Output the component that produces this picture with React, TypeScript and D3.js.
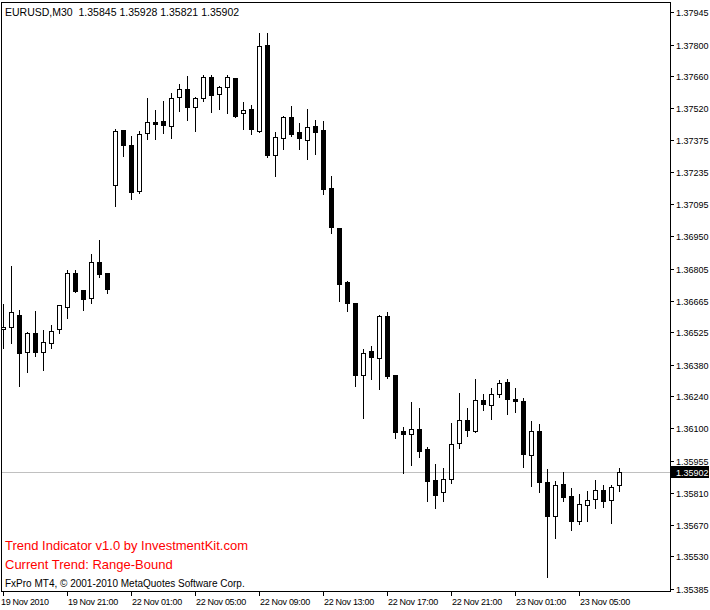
import React from "react";
import * as d3 from "d3";

const symbolTitle = "EURUSD,M30  1.35845 1.35928 1.35821 1.35902";
const indicatorLine1 = "Trend Indicator v1.0 by InvestmentKit.com";
const indicatorLine2 = "Current Trend: Range-Bound";
const copyright = "FxPro MT4, \u00A9 2001-2010 MetaQuotes Software Corp.";

const opens = [1.36537,1.36546,1.36599,1.36435,1.36519,1.36435,1.36475,1.36537,1.36637,1.36786,
1.36710,1.36675,1.36837,1.36786,1.37176,1.37421,1.37355,1.37152,1.37407,1.37456,
1.37461,1.37441,1.37567,1.37602,1.37522,1.37562,1.37655,1.37580,1.37611,1.37651,
1.37496,1.37513,1.37418,1.37797,1.37309,1.37385,1.37478,1.37411,1.37376,1.37438,
1.37420,1.37163,1.36985,1.36746,1.36653,1.36336,1.36440,1.36411,1.36595,1.36334,
1.36086,1.36071,1.36093,1.36005,1.35868,1.35814,1.35872,1.36031,1.36133,1.36087,
1.36222,1.36200,1.36249,1.36302,1.36227,1.36218,1.35978,1.36086,1.35860,1.35710,
1.35849,1.35796,1.35688,1.35756,1.35783,1.35824,1.35778,1.35845];
const highs = [1.36655,1.36822,1.36627,1.36530,1.36623,1.36538,1.36561,1.36650,1.36805,1.36805,
1.36716,1.36874,1.36936,1.36792,1.37429,1.37426,1.37399,1.37420,1.37568,1.37515,
1.37554,1.37590,1.37630,1.37665,1.37571,1.37670,1.37670,1.37621,1.37670,1.37653,
1.37550,1.37537,1.37856,1.37856,1.37417,1.37487,1.37531,1.37456,1.37518,1.37469,
1.37464,1.37220,1.36992,1.36756,1.36658,1.36453,1.36467,1.36603,1.36618,1.36338,
1.36108,1.36219,1.36192,1.36019,1.35943,1.35925,1.36126,1.36259,1.36192,1.36320,
1.36253,1.36280,1.36315,1.36320,1.36280,1.36235,1.36133,1.36120,1.35922,1.35868,
1.35908,1.35836,1.35809,1.35824,1.35873,1.35851,1.35851,1.35928];
const lows = [1.36454,1.36475,1.36287,1.36346,1.36420,1.36357,1.36453,1.36519,1.36586,1.36701,
1.36623,1.36655,1.36771,1.36697,1.37086,1.37307,1.37115,1.37143,1.37380,1.37383,
1.37409,1.37387,1.37507,1.37467,1.37418,1.37551,1.37503,1.37516,1.37498,1.37480,
1.37427,1.37405,1.37414,1.37303,1.37219,1.37338,1.37396,1.37338,1.37294,1.37316,
1.37136,1.36963,1.36664,1.36620,1.36287,1.36145,1.36317,1.36272,1.36322,1.36054,
1.35901,1.35935,1.35972,1.35777,1.35746,1.35777,1.35854,1.36012,1.36065,1.36080,
1.36179,1.36140,1.36238,1.36160,1.36172,1.35928,1.35843,1.35817,1.35439,1.35612,
1.35777,1.35647,1.35675,1.35688,1.35746,1.35750,1.35679,1.35821];
const closes = [1.36547,1.36613,1.36431,1.36519,1.36435,1.36479,1.36530,1.36644,1.36786,1.36708,
1.36670,1.36837,1.36781,1.36715,1.37417,1.37355,1.37148,1.37402,1.37456,1.37449,
1.37445,1.37562,1.37602,1.37525,1.37562,1.37655,1.37578,1.37611,1.37655,1.37485,
1.37509,1.37427,1.37793,1.37312,1.37389,1.37478,1.37405,1.37387,1.37433,1.37414,
1.37161,1.36990,1.36739,1.36653,1.36336,1.36431,1.36413,1.36595,1.36331,1.36083,
1.36071,1.36093,1.35998,1.35865,1.35802,1.35872,1.36027,1.36133,1.36092,1.36222,
1.36204,1.36249,1.36298,1.36227,1.36218,1.35983,1.36085,1.35861,1.35710,1.35845,
1.35794,1.35688,1.35761,1.35778,1.35824,1.35777,1.35836,1.35902];

const priceTicks = [1.37945,1.378,1.3766,1.3752,1.37375,1.37235,1.37095,1.3695,1.36805,1.36665,
1.36525,1.3638,1.3624,1.361,1.35955,1.3581,1.3567,1.3553,1.35385];
const timeLabels = ["19 Nov 2010","19 Nov 21:00","22 Nov 01:00","22 Nov 05:00","22 Nov 09:00",
"22 Nov 13:00","22 Nov 17:00","22 Nov 21:00","23 Nov 01:00","23 Nov 05:00"];
const timeLabelBars = [0,8,16,24,32,40,48,56,64,72];
const currentPrice = 1.35902;

const W = 710, H = 610;
const FONT = "'Liberation Sans', Arial, sans-serif";

export default function App() {
  const n = opens.length;
  const x = d3.scaleLinear().domain([0, n - 1]).range([3, 3 + 8 * (n - 1)]);
  const y = d3.scaleLinear().domain([1.35385, 1.37945]).range([589, 12]);
  const py = (v: number) => Math.round(y(v)) + 0.5;
  const plotRight = 670;
  const plotBottom = 591;
  const curY = py(currentPrice);

  return (
    <svg width={W} height={H} style={{ position: "absolute", left: 0, top: 0, display: "block", background: "#fff" }}
      shapeRendering="crispEdges">
      <rect x={0} y={0} width={W} height={H} fill="#fff" />
      {/* current price line */}
      <line x1={1} x2={plotRight} y1={curY} y2={curY} stroke="#c0c0c0" strokeWidth={1} />
      {/* candles */}
      {opens.map((o, i) => {
        const c = closes[i];
        const cx = Math.round(x(i)) + 0.5;
        const top = Math.round(y(Math.max(o, c)));
        const bot = Math.round(y(Math.min(o, c)));
        const bull = c > o;
        return (
          <g key={i}>
            <line x1={cx} x2={cx} y1={py(highs[i])} y2={py(lows[i]) } stroke="#000" strokeWidth={1} />
            {bot - top < 1 ? (
              <line x1={cx - 2.5} x2={cx + 2.5} y1={top + 0.5} y2={top + 0.5} stroke="#000" strokeWidth={1} />
            ) : (
              <rect x={cx - 2} y={top + 0.5} width={4} height={bot - top}
                fill={bull ? "#fff" : "#000"} stroke="#000" strokeWidth={1} />
            )}
          </g>
        );
      })}
      {/* frame */}
      <path d={`M1.5,2.5 H${plotRight + 0.5} V${plotBottom + 0.5} H1.5 Z`} fill="none" stroke="#000" strokeWidth={1} />
      {/* price axis */}
      {priceTicks.map((v, i) => (
        <g key={i}>
          <line x1={plotRight + 1} x2={plotRight + 4} y1={py(v)} y2={py(v)} stroke="#000" />
          <text x={676} y={py(v)} dy="0.35em" fontFamily={FONT} fontSize={9} fill="#000">{v.toFixed(5)}</text>
        </g>
      ))}
      {/* current price box */}
      <rect x={671} y={curY - 6.5} width={38} height={12} fill="#000" />
      <text x={676} y={curY} dy="0.35em" fontFamily={FONT} fontSize={9} fill="#fff">{currentPrice.toFixed(5)}</text>
      {/* time axis */}
      {timeLabelBars.map((b, i) => {
        const tx = Math.round(x(b)) + 0.5;
        return (
          <g key={i}>
            <line x1={tx} x2={tx} y1={plotBottom + 1} y2={plotBottom + 5} stroke="#000" />
            <text x={i === 0 ? 1 : tx + 0.5} y={605} fontFamily={FONT} fontSize={9} letterSpacing={-0.3} fill="#000">{timeLabels[i]}</text>
          </g>
        );
      })}
      {/* header */}
      <text x={5} y={16} fontFamily={FONT} fontSize={10.5} fill="#000" style={{ whiteSpace: "pre" }}>{symbolTitle}</text>
      {/* indicator texts */}
      <text x={5} y={550} fontFamily={FONT} fontSize={13} fill="#ff0000">{indicatorLine1}</text>
      <text x={5} y={569} fontFamily={FONT} fontSize={13} fill="#ff0000">{indicatorLine2}</text>
      <text x={5} y={587} fontFamily={FONT} fontSize={10} fill="#000">{copyright}</text>
    </svg>
  );
}
